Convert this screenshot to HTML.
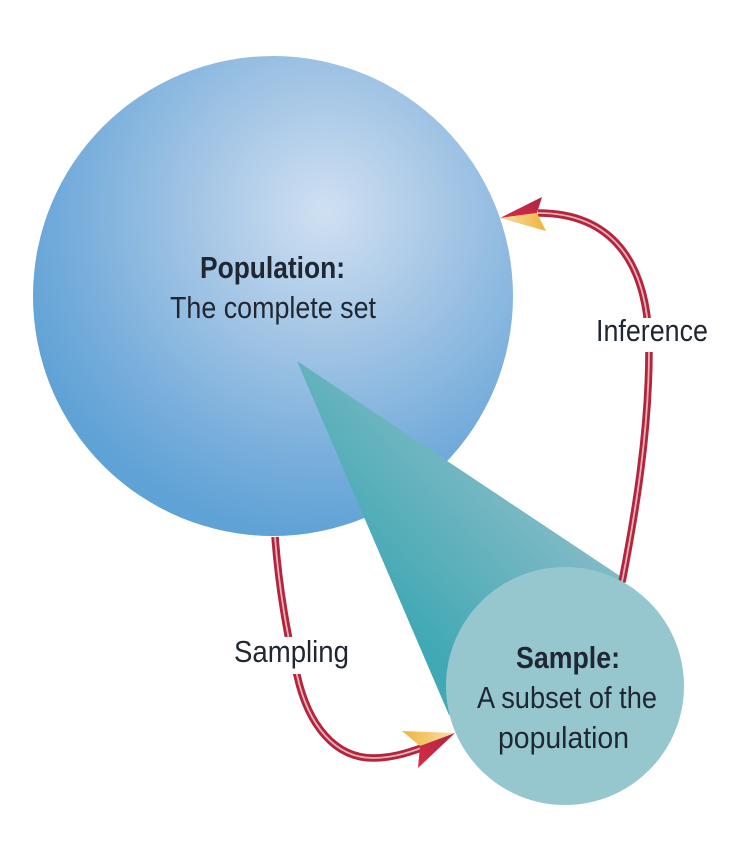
<!DOCTYPE html>
<html><head><meta charset="utf-8"><style>html,body{margin:0;padding:0;background:#fff}svg{display:block}text{font-family:"Liberation Sans",sans-serif;font-size:31px;fill:#1f2733;text-anchor:start}</style></head>
<body>
<svg width="742" height="845" viewBox="0 0 742 845" xmlns="http://www.w3.org/2000/svg">
<defs>
<radialGradient id="b" gradientUnits="userSpaceOnUse" cx="325" cy="212" r="325">
<stop offset="0" stop-color="#d0e0f2"/><stop offset=".4" stop-color="#a3c5e5"/><stop offset=".8" stop-color="#74acdb"/><stop offset="1" stop-color="#5fa2d5"/>
</radialGradient>
<linearGradient id="t" gradientUnits="userSpaceOnUse" x1="430" y1="650" x2="590" y2="500">
<stop offset="0" stop-color="#41a9b4"/><stop offset="1" stop-color="#8cbdc9"/>
</linearGradient>
<linearGradient id="y1" x1="0" y1="0" x2="1" y2="0"><stop offset="0" stop-color="#eeb43c"/><stop offset="1" stop-color="#f9e0a6"/></linearGradient>
<linearGradient id="y2" x1="0" y1="0" x2="1" y2="0"><stop offset="0" stop-color="#f9e0a6"/><stop offset="1" stop-color="#eeb43c"/></linearGradient>
<linearGradient id="r1" x1="0" y1="1" x2="1" y2="0"><stop offset="0" stop-color="#dc2b45"/><stop offset="1" stop-color="#ad2442"/></linearGradient>
</defs>
<circle cx="273" cy="296" r="240" fill="url(#b)"/>
<path d="M297 361L626 580L565 686L449 715Z" fill="url(#t)"/>
<g fill="none">
<path d="M622 582C636 510 649 430 649 350C649 260 610 213 538 213" stroke="#b0263f" stroke-width="7.5"/>
<path d="M622 582C636 510 649 430 649 350C649 260 610 213 538 213" stroke="#eeb0b2" stroke-width="1.8"/>
<path d="M275 537C279 590 288 640 297 675C308 725 335 758 373 758C390 758 405 754 424 747" stroke="#b0263f" stroke-width="7.5"/>
<path d="M275 537C279 590 288 640 297 675C308 725 335 758 373 758C390 758 405 754 424 747" stroke="#eeb0b2" stroke-width="1.8"/>
</g>
<rect x="590" y="318" width="118" height="34" fill="#fff"/>
<rect x="232" y="637" width="118" height="37" fill="#fff"/>
<path d="M500 218L542 197L537 213Z" fill="url(#r1)"/>
<path d="M500 218L537 213L546 231Z" fill="url(#y2)"/>
<path d="M455 733L402 731L420 746Z" fill="url(#y1)"/>
<path d="M455 733L420 746L418 768Z" fill="url(#r1)"/>
<circle cx="565" cy="686" r="119" fill="#97c7ce"/>
<text x="200" y="278" textLength="145" lengthAdjust="spacingAndGlyphs" font-weight="700">Population:</text>
<text x="170" y="318" textLength="206" lengthAdjust="spacingAndGlyphs">The complete set</text>
<text x="596" y="341" textLength="112" lengthAdjust="spacingAndGlyphs">Inference</text>
<text x="234" y="662" textLength="115" lengthAdjust="spacingAndGlyphs">Sampling</text>
<text x="516" y="668" textLength="104" lengthAdjust="spacingAndGlyphs" font-weight="700">Sample:</text>
<text x="477" y="708" textLength="180" lengthAdjust="spacingAndGlyphs">A subset of the</text>
<text x="498" y="748" textLength="131" lengthAdjust="spacingAndGlyphs">population</text>
</svg>
</body></html>
